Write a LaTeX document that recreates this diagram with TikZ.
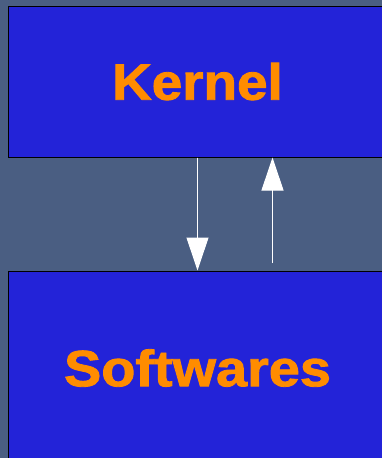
\documentclass[tikz,border=0pt]{standalone}
\usepackage{fontspec}
\setmainfont{Liberation Sans}
\newfontfamily\heavyfont[FakeBold=1.6]{Liberation Sans Bold}
\usetikzlibrary{arrows.meta}
\definecolor{bgc}{HTML}{4A5E82}
\definecolor{boxc}{HTML}{2323D8}
\definecolor{txtc}{HTML}{FF8C00}
\tikzset{
  layerbox/.style={draw=black, line width=1pt, fill=boxc, text=txtc,
    font=\heavyfont\fontsize{51}{51}\selectfont, inner sep=0pt,
    minimum width=379pt},
  flow/.style={draw=white, line width=1pt,
    -{Triangle[width=22pt,length=33pt]}, fill=white}
}
\begin{document}
\begin{tikzpicture}[x=1pt,y=-1pt]
\useasboundingbox (0,0) rectangle (382,458);
\fill[bgc] (0,0) rectangle (382,458);
\node[layerbox, minimum height=151pt] (kernel) at (197.5,81.5) {\scalebox{1.075}[1]{Kernel}};
\node[layerbox, minimum height=194pt] (soft) at (197.5,368) {\scalebox{1.095}[1]{Softwares}};
\coordinate (ustart) at (272.5,263);
\draw[flow] (kernel.south -| 197.5,0) -- (soft.north -| 197.5,0);
\draw[flow] (ustart) -- (kernel.south -| ustart);
\end{tikzpicture}
\end{document}
